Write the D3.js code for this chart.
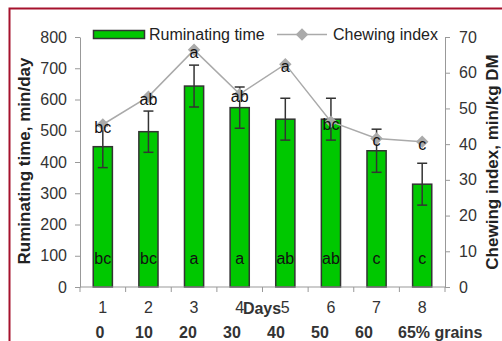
<!DOCTYPE html>
<html>
<head>
<meta charset="utf-8">
<script src="https://cdn.jsdelivr.net/npm/d3@7"></script>
<style>
  body { margin: 0; background: #fff; }
  svg { display: block; font-family: "Liberation Sans", Arial, sans-serif; }
  .axis path, .axis line { stroke: #999; }
  .axis text { fill: #333; font-size: 16px; }
</style>
</head>
<body>
<div id="chart"></div>
<script>
// chart data
const days = ["1", "2", "3", "4", "5", "6", "7", "8"];
const grains = ["0", "10", "20", "30", "40", "50", "60", "65% grains"];
const rumination = [449, 497, 643, 574, 537, 537, 436, 329];
const ruminationSd = [67, 66, 67, 66, 67, 67, 69, 67];
const barLetters = ["bc", "bc", "a", "a", "ab", "ab", "c", "c"];
const chewing = [45.5, 53.3, 66.4, 54, 62.4, 46.3, 41.6, 40.7];
const chewLetters = ["bc", "ab", "a", "ab", "a", "bc", "c", "c"];
const leftTicks = [0, 100, 200, 300, 400, 500, 600, 700, 800];
const rightTicks = [0, 10, 20, 30, 40, 50, 60, 70];

const W = 502, H = 341;
const margin = {top: 37, right: 57, bottom: 54, left: 80};
const width = W - margin.left - margin.right;
const height = H - margin.top - margin.bottom;

const svg = d3.select("#chart").append("svg")
    .attr("width", W)
    .attr("height", H);

// dark red frame (right and bottom edges fall outside the picture)
svg.append("rect")
    .attr("x", 9.5).attr("y", 8.5)
    .attr("width", 520).attr("height", 360)
    .attr("fill", "none")
    .attr("stroke", "#a6122d")
    .attr("stroke-width", 2);

const g = svg.append("g")
    .attr("transform", `translate(${margin.left},${margin.top})`);

const x = d3.scaleBand().domain(days).range([0, width]);
// the bold grain row is set a little tighter than the day row
const xg = d3.scaleBand().domain(grains).range([-2, 350]);
const yL = d3.scaleLinear().domain([0, 800]).range([height, 0]);
const yR = d3.scaleLinear().domain([0, 70]).range([height, 0]);
const barW = x.bandwidth() * 0.42;
const cx = d => x(d) + x.bandwidth() / 2;

// bars
g.selectAll("rect.bar")
    .data(days)
    .join("rect")
    .attr("class", "bar")
    .attr("x", d => cx(d) - barW / 2)
    .attr("y", (d, i) => yL(rumination[i]))
    .attr("width", barW)
    .attr("height", (d, i) => height - yL(rumination[i]))
    .attr("fill", "#00c800")
    .attr("stroke", "#333")
    .attr("stroke-width", 1.5);

// error bars
const err = g.append("g").attr("stroke", "#333").attr("stroke-width", 1.5);
days.forEach((d, i) => {
    const lo = yL(rumination[i] - ruminationSd[i]);
    const hi = yL(rumination[i] + ruminationSd[i]);
    err.append("line").attr("x1", cx(d)).attr("x2", cx(d)).attr("y1", lo).attr("y2", hi);
    err.append("line").attr("x1", cx(d) - 5).attr("x2", cx(d) + 5).attr("y1", lo).attr("y2", lo);
    err.append("line").attr("x1", cx(d) - 5).attr("x2", cx(d) + 5).attr("y1", hi).attr("y2", hi);
});

// letters inside bars
g.selectAll("text.barl")
    .data(days)
    .join("text")
    .attr("class", "barl")
    .attr("x", d => cx(d))
    .attr("y", yL(75))
    .attr("text-anchor", "middle")
    .attr("font-size", 16)
    .attr("fill", "#111")
    .text((d, i) => barLetters[i]);

// chewing index line
const line = d3.line()
    .x((v, i) => cx(days[i]))
    .y(v => yR(v));
g.append("path")
    .datum(chewing)
    .attr("d", line)
    .attr("fill", "none")
    .attr("stroke", "#aaa")
    .attr("stroke-width", 1.5);

const diamond = d3.symbol().type(d3.symbolDiamond2).size(100);
g.selectAll("path.pt")
    .data(chewing)
    .join("path")
    .attr("class", "pt")
    .attr("d", diamond)
    .attr("transform", (v, i) => `translate(${cx(days[i])},${yR(v)})`)
    .attr("fill", "#aaa");

g.selectAll("text.chl")
    .data(chewing)
    .join("text")
    .attr("class", "chl")
    .attr("x", (v, i) => cx(days[i]))
    .attr("y", v => yR(v) + 8)
    .attr("text-anchor", "middle")
    .attr("font-size", 16)
    .attr("fill", "#111")
    .text((v, i) => chewLetters[i]);

// axes
g.append("g")
    .attr("class", "axis")
    .call(d3.axisLeft(yL).tickValues(leftTicks).tickSize(5).tickSizeOuter(0).tickPadding(8));
g.append("g")
    .attr("class", "axis")
    .attr("transform", `translate(${width},0)`)
    .call(d3.axisRight(yR).tickValues(rightTicks).tickSize(5).tickSizeOuter(0).tickPadding(9));

const xAxis = g.append("g")
    .attr("class", "axis")
    .attr("transform", `translate(0,${height})`);
xAxis.append("line")
    .attr("x1", 0).attr("x2", width)
    .attr("stroke", "#999");
xAxis.selectAll("line.tk")
    .data(d3.range(days.length + 1))
    .join("line")
    .attr("class", "tk")
    .attr("x1", i => i * x.step()).attr("x2", i => i * x.step())
    .attr("y1", 0).attr("y2", 5)
    .attr("stroke", "#999");
xAxis.selectAll("text.day")
    .data(days)
    .join("text")
    .attr("class", "day")
    .attr("x", d => cx(d))
    .attr("y", 20)
    .attr("dy", "0.35em")
    .attr("text-anchor", "middle")
    .text(d => d);
xAxis.selectAll("text.gr")
    .data(grains)
    .join("text")
    .attr("class", "gr")
    .attr("x", (d, i) => i === grains.length - 1
        ? xg(d) + xg.bandwidth() / 2 - 10
        : xg(d) + xg.bandwidth() / 2)
    .attr("y", 45)
    .attr("dy", "0.35em")
    .attr("text-anchor", (d, i) => i === grains.length - 1 ? "start" : "middle")
    .attr("font-weight", "bold")
    .text(d => d);
xAxis.append("text")
    .attr("x", x.step() * 4 - 0.5)
    .attr("y", 21)
    .attr("dy", "0.35em")
    .attr("text-anchor", "middle")
    .attr("font-weight", "bold")
    .attr("font-size", 15.5)
    .text("Days");

// axis titles
svg.append("text")
    .attr("transform", "translate(30,161) rotate(-90)")
    .attr("text-anchor", "middle")
    .attr("font-size", 17)
    .attr("font-weight", "bold")
    .attr("fill", "#222")
    .text("Ruminating time, min/day");
svg.append("text")
    .attr("transform", "translate(497.5,162) rotate(-90)")
    .attr("text-anchor", "middle")
    .attr("font-size", 17)
    .attr("font-weight", "bold")
    .attr("fill", "#222")
    .text("Chewing index, min/kg DM");

// legend
const legend = svg.append("g").attr("font-size", 16).attr("fill", "#222");
legend.append("rect")
    .attr("x", 93.5).attr("y", 30.5).attr("width", 51).attr("height", 8)
    .attr("fill", "#00c800").attr("stroke", "#333").attr("stroke-width", 1.5);
legend.append("text").attr("x", 149).attr("y", 40).text("Ruminating time");
legend.append("line")
    .attr("x1", 277).attr("x2", 327).attr("y1", 34.5).attr("y2", 34.5)
    .attr("stroke", "#aaa").attr("stroke-width", 1.5);
legend.append("path")
    .attr("d", diamond)
    .attr("transform", "translate(302,34.5)")
    .attr("fill", "#aaa");
legend.append("text").attr("x", 333).attr("y", 40).text("Chewing index");
</script>
</body>
</html>
